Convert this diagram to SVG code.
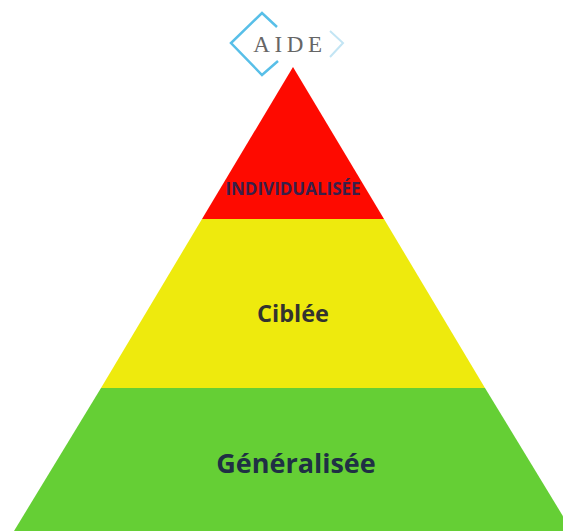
<svg xmlns="http://www.w3.org/2000/svg" width="563" height="531" viewBox="0 0 563 531">
<style>
text{font-family:"Open Sans","Noto Sans",sans-serif;font-weight:700;fill:#25283d;text-anchor:middle}
.logo{fill:none;stroke:#58bfe8;stroke-width:2.5}
.chev{fill:none;stroke:#c3e5f4;stroke-width:2}
</style>
<rect width="563" height="531" fill="#fff"/>
<g id="logo">
<path class="logo" d="M277 27 L262 13 L231 43 L262 75 L278 61"/>
<path class="chev" d="M330 31 L343 43 L330 57"/>
<text x="290" y="52" style="font-family:'Liberation Serif',serif;font-weight:400;font-size:23px;letter-spacing:4.6px;fill:#666">AIDE</text>
</g>
<g id="niveau-individualisee">
<polygon points="293,67 384,219 202,219" fill="#fe0a00"/>
<text x="293" y="195" font-size="17" style="fill:#38204a">INDIVIDUALISÉE</text>
</g>
<g id="niveau-ciblee">
<polygon points="202,219 384,219 485,388 101,388" fill="#eeea0d"/>
<text x="293" y="322" font-size="23.5" style="fill:#33322f">Ciblée</text>
</g>
<g id="niveau-generalisee">
<polygon points="101,388 485,388 572,531 14,531" fill="#65cf35"/>
<text x="296" y="473" font-size="27" style="fill:#1f3044">Généralisée</text>
</g>
</svg>
